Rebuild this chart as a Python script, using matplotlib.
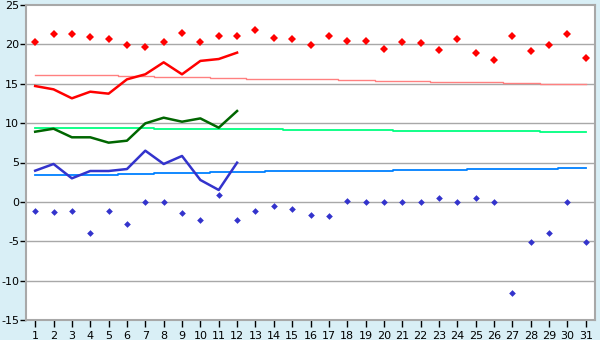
import numpy as np
from matplotlib import pyplot as plt

plt.rcParams['axes.unicode_minus'] = False

days = list(range(1, 32))

rec_max = [20.26, 21.27, 21.27, 20.9, 20.64, 19.88, 19.63, 20.26, 21.4, 20.26,
           21.02, 21.02, 21.78, 20.77, 20.64, 19.88, 21.02, 20.39, 20.39, 19.37,
           20.26, 20.13, 19.25, 20.64, 18.86, 17.97, 21.02, 19.12, 19.88, 21.27, 18.23]
rec_min = [-1.14, -1.27, -1.14, -3.94, -1.14, -2.8, 0.0, 0.0, -1.4, -2.29,
           0.89, -2.29, -1.14, -0.5, -0.89, -1.65, -1.78, 0.13, 0.0, 0.0,
           0.0, 0.0, 0.5, 0.0, 0.5, 0.0, -11.57, -5.08, -3.94, 0.0, -5.08]

obs_days = list(range(1, 13))
tmax = [14.71, 14.29, 13.15, 13.99, 13.74, 15.56, 16.2, 17.72, 16.2, 17.9, 18.14, 18.95]
tmean = [8.91, 9.29, 8.2, 8.2, 7.52, 7.77, 9.97, 10.69, 10.18, 10.6, 9.42, 11.54]
tmin = [3.96, 4.81, 2.99, 3.92, 3.92, 4.17, 6.5, 4.81, 5.83, 2.78, 1.51, 4.98]

norm_max = [16.07]*5 + [15.94]*2 + [15.82]*3 + [15.69]*2 + [15.56]*5 + [15.43]*2 \
    + [15.31]*3 + [15.18]*4 + [15.05]*2 + [14.93]*3
norm_mean = [9.38]*7 + [9.25]*7 + [9.13]*6 + [9.0]*8 + [8.87]*3
norm_min = [3.41]*5 + [3.54]*2 + [3.67]*3 + [3.79]*3 + [3.92]*7 + [4.05]*4 \
    + [4.17]*5 + [4.30]*2

bg = '#d9eff6'
grid = '#a8a8a8'

fig = plt.figure(figsize=(6, 3.4), dpi=100, facecolor=bg)
ax = fig.add_axes([26/600, 1-320/340, 569/600, 315/340])
ax.set_facecolor('white')

for y in range(-10, 25, 5):
    ax.axhline(y, color=grid, lw=1.0, zorder=1)

ax.plot(days, norm_max, color='#ff8080', lw=1.0, drawstyle='steps-mid', zorder=2)
ax.plot(days, norm_mean, color='#00ff80', lw=1.3, drawstyle='steps-mid', zorder=2)
ax.plot(days, norm_min, color='#0080ff', lw=1.3, drawstyle='steps-mid', zorder=2)

ax.plot(obs_days, tmax, color='#ff0000', lw=1.8, zorder=3)
ax.plot(obs_days, tmean, color='#006600', lw=1.8, zorder=3)
ax.plot(obs_days, tmin, color='#3333cc', lw=1.8, zorder=3)

ax.plot(days, rec_max, 'D', color='#ff0000', ms=4.2, mew=0, zorder=4)
ax.plot(days, rec_min, 'D', color='#3333cc', ms=3.4, mew=0, zorder=4)

ax.set_xlim(0.5, 31.5)
ax.set_ylim(-15, 25)
ax.set_xticks(days)
ax.set_yticks(range(-15, 30, 5))
for s in ax.spines.values():
    s.set_color(grid)
    s.set_linewidth(1.5)
ax.tick_params(axis='both', labelsize=8, colors='black', length=4, width=1, pad=1)
ax.tick_params(axis='x', length=5, pad=3)

plt.savefig('out.png', dpi=100, facecolor=bg)
